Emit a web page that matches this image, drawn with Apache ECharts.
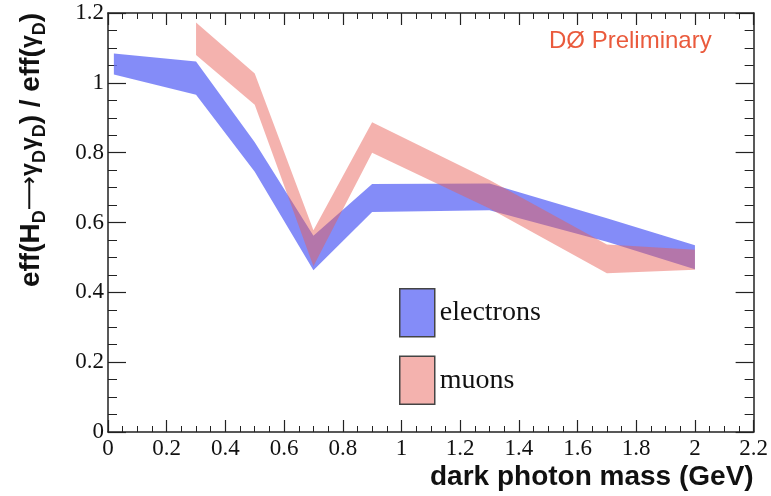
<!DOCTYPE html>
<html>
<head>
<meta charset="utf-8">
<script src="https://cdn.jsdelivr.net/npm/echarts@6/dist/echarts.min.js"></script>
<style>html,body{margin:0;padding:0;background:#fff;}#c{width:771px;height:496px;}</style>
</head>
<body>
<div id="c"></div>
<script>
// dark photon mass (GeV)
const massE = [0.02, 0.3, 0.5, 0.7, 0.9, 1.3, 1.7, 2.0];
const eLow  = [1.024, 0.966, 0.745, 0.463, 0.630, 0.635, 0.545, 0.466];
const eHigh = [1.084, 1.061, 0.830, 0.562, 0.710, 0.712, 0.612, 0.535];

const massM = [0.3, 0.5, 0.7, 0.9, 1.3, 1.7, 2.0];
const mLow  = [1.080, 0.937, 0.475, 0.800, 0.640, 0.455, 0.465];
const mHigh = [1.173, 1.027, 0.578, 0.887, 0.722, 0.537, 0.522];

const xTicks = [0, 2.2, 0.2];   // min, max, interval
const yTicks = [0, 1.2, 0.2];

const blue = 'rgba(105,115,246,0.82)';
const red = 'rgba(232,95,85,0.48)';
const axisColor = '#222';
const serif = 'Liberation Serif';

const chart = echarts.init(document.getElementById('c'), null, {renderer: 'canvas'});

function labelStyle(show, margin) {
  return {
    show: show, margin: margin,
    fontFamily: serif, fontSize: 23, color: '#111',
    formatter: function (v) { return '{t|' + v + '}'; },
    rich: {t: {fontFamily: serif, fontSize: 23, color: '#111'}}
  };
}

function xAxisDef(pos, labels) {
  return {
    type: 'value', position: pos, min: xTicks[0], max: xTicks[1], interval: xTicks[2],
    axisLine: {show: true, onZero: false, lineStyle: {color: axisColor, width: 1.5}},
    axisTick: {show: true, inside: true, length: 12, lineStyle: {color: axisColor, width: 1.2}},
    minorTick: {show: true, splitNumber: 4, length: 6, lineStyle: {color: axisColor, width: 1}},
    splitLine: {show: false},
    axisLabel: labelStyle(labels, 5),
    name: labels ? 'dark photon mass (GeV)' : '',
    nameLocation: 'end', nameGap: 0,
    nameTextStyle: {align: 'right', verticalAlign: 'top', padding: [31, 0, 0, 0],
      fontFamily: 'Liberation Sans', fontWeight: 'bold', fontSize: 28, color: '#111'}
  };
}
function yAxisDef(pos, labels) {
  return {
    type: 'value', position: pos, min: yTicks[0], max: yTicks[1], interval: yTicks[2],
    axisLine: {show: true, onZero: false, lineStyle: {color: axisColor, width: 1.5}},
    axisTick: {show: true, inside: true, length: 18, lineStyle: {color: axisColor, width: 1.2}},
    minorTick: {show: true, splitNumber: 4, length: 9, lineStyle: {color: axisColor, width: 1}},
    splitLine: {show: false},
    axisLabel: labelStyle(labels, 4)
  };
}

function bandSeries(name, xs, lo, hi, color) {
  return {
    name: name, type: 'custom', coordinateSystem: 'cartesian2d',
    itemStyle: {color: color},
    encode: {x: 0, y: [1, 2]},
    data: xs.map((x, i) => [x, lo[i], hi[i]]),
    renderItem: function (params, api) {
      if (params.dataIndex !== 0) return null;
      const pts = [];
      for (let i = 0; i < xs.length; i++) pts.push(api.coord([xs[i], lo[i]]));
      for (let i = xs.length - 1; i >= 0; i--) pts.push(api.coord([xs[i], hi[i]]));
      return {type: 'polygon', shape: {points: pts}, style: {fill: color}};
    }
  };
}

const option = {
  animation: false,
  backgroundColor: '#fff',
  textStyle: {fontFamily: serif},
  grid: {left: 108, right: 17, top: 13, bottom: 64, containLabel: false},
  xAxis: [xAxisDef('bottom', true), xAxisDef('top', false)],
  yAxis: [yAxisDef('left', true), yAxisDef('right', false)],
  legend: {
    orient: 'vertical', left: 394, top: 283, itemWidth: 35, itemHeight: 48, itemGap: 18,
    icon: 'rect',
    textStyle: {fontFamily: serif, fontSize: 28, color: '#111'},
    data: [
      {name: 'electrons', itemStyle: {color: blue, borderColor: '#444', borderWidth: 1.5}},
      {name: 'muons', itemStyle: {color: red, borderColor: '#444', borderWidth: 1.5}}
    ]
  },
  series: [
    bandSeries('electrons', massE, eLow, eHigh, blue),
    bandSeries('muons', massM, mLow, mHigh, red)
  ],
  graphic: [
    {type: 'text', x: 31, y: 13, rotation: Math.PI / 2,
     style: {
       text: '{b|eff(H}{s|D}{a|⟶}{g|γ}{s|D}{g|γ}{s|D}{b|) / eff(}{g|γ}{s|D}{b|)}',
       align: 'right', verticalAlign: 'middle',
       rich: {
         b: {fontFamily: 'Liberation Sans', fontWeight: 'bold', fontSize: 28, lineHeight: 36, fill: '#111'},
         a: {fontFamily: 'DejaVu Sans', fontSize: 24, lineHeight: 36, fill: '#111'},
         g: {fontFamily: 'Liberation Sans', fontWeight: 'bold', fontSize: 23, lineHeight: 36, fill: '#111'},
         s: {fontFamily: 'Liberation Sans', fontWeight: 'bold', fontSize: 18, lineHeight: 18, fill: '#111', verticalAlign: 'bottom'}
       }
     }},
    {type: 'text', x: 549, y: 41,
     style: {text: 'DØ Preliminary', fontFamily: 'Liberation Sans', fontSize: 24, fill: '#ea5a3c',
       align: 'left', verticalAlign: 'middle'}}
  ]
};
chart.setOption(option);
</script>
</body>
</html>
